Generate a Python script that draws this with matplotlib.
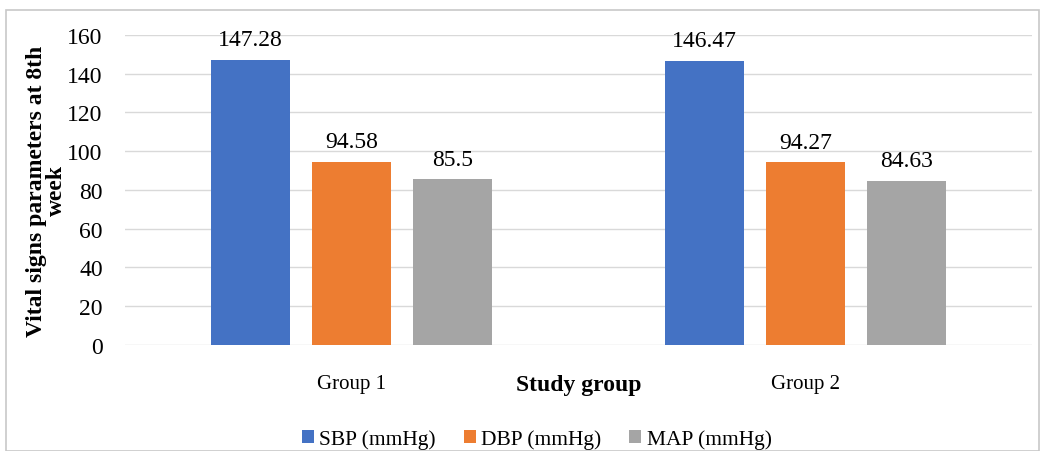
import numpy as np
import matplotlib.pyplot as plt
from matplotlib.patches import Rectangle

groups = ["Group 1", "Group 2"]
series = ["SBP (mmHg)", "DBP (mmHg)", "MAP (mmHg)"]
sbp = [147.28, 146.47]
dbp = [94.58, 94.27]
map_vals = [85.5, 84.63]
colors = ["#4472C4", "#ED7D31", "#A5A5A5"]

plt.rcParams['font.family'] = ['Liberation Serif', 'DejaVu Serif']

fig = plt.figure(figsize=(10.45, 4.52), dpi=100)
ax = fig.add_axes([0.1196, 0.2345, 0.868, 0.686])

# light frame around the whole chart
fig.patches.append(Rectangle((6 / 1045, 0.0), 1 - 12 / 1045, 1 - 11 / 452,
                             transform=fig.transFigure, fill=False,
                             edgecolor="#c8c8c8", linewidth=1.2))

x = np.arange(len(groups))
width = 0.174
step = 0.223
for i, (name, vals, c) in enumerate(zip(series, [sbp, dbp, map_vals], colors)):
    pos = x + (i - 1) * step
    bars = ax.bar(pos, vals, width, color=c, label=name, zorder=3)
    for b, v in zip(bars, vals):
        ax.annotate(f"{v:g}", (b.get_x() + b.get_width() / 2, v),
                    xytext=(0, 7), textcoords="offset points",
                    ha="center", va="bottom", fontsize=17)

ax.set_xlim(-0.5, 1.5)
ax.set_ylim(0, 160)
ax.set_yticks(range(0, 161, 20))
ax.set_xticks(x)
ax.set_xticklabels(groups, fontsize=15)
ax.tick_params(axis="y", labelsize=17, length=0, pad=16)
ax.tick_params(axis="x", length=0, pad=21)
ax.grid(axis="y", color="#d9d9d9", linewidth=1, zorder=0)
for s in ax.spines.values():
    s.set_visible(False)

ax.set_ylabel("Vital signs parameters at 8th\nweek", fontsize=17,
              fontweight="bold", labelpad=0, linespacing=0.95)
ax.set_xlabel("Study group", fontsize=17, fontweight="bold", labelpad=-14)

ax.legend(loc="center", bbox_to_anchor=(0.454, -0.305), ncol=3, frameon=False,
          fontsize=15.5, handlelength=0.55, handleheight=0.55, handletextpad=0.25,
          columnspacing=1.3)

fig.savefig("out.png", dpi=100)
